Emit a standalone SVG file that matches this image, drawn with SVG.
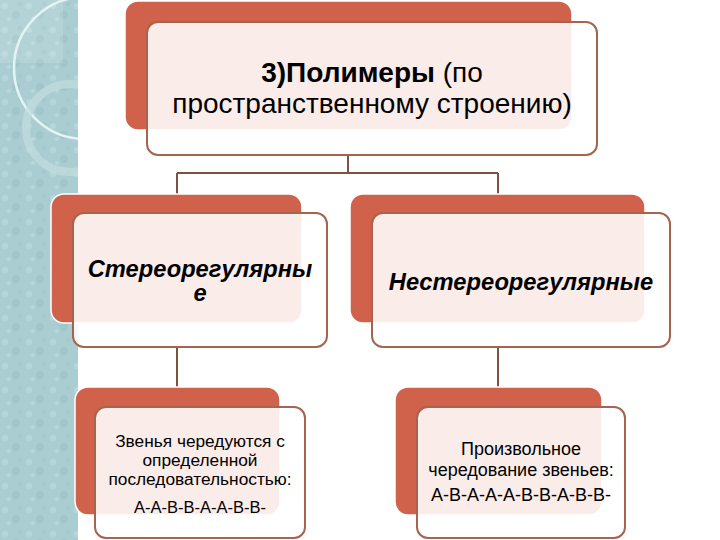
<svg xmlns="http://www.w3.org/2000/svg" width="720" height="540" viewBox="0 0 720 540">
<defs>
<style>
.back{fill:#d0614a;stroke:#ffffff;stroke-width:1.5}
.front{fill:#ffffff;fill-opacity:0.88;stroke:#a5644f;stroke-width:2}
.conn{fill:none;stroke:#7d5241;stroke-width:2}
.t{font-family:"Liberation Sans",Arial,sans-serif;fill:#000;text-anchor:middle}
.bi{font-weight:bold;font-style:italic;font-size:23.7px}
.sm{font-size:17.3px}
</style>
<clipPath id="strip"><rect x="0" y="0" width="78" height="540"/></clipPath>
<pattern id="tex" width="24" height="24" patternUnits="userSpaceOnUse">
<rect width="24" height="24" fill="#a9cdd1"/>
<circle cx="5" cy="6" r="3" fill="#bcdadd" opacity="0.7"/>
<circle cx="16" cy="15" r="4" fill="#97bfc3" opacity="0.5"/>
<circle cx="9" cy="19" r="2" fill="#c4e0e2" opacity="0.6"/>
<circle cx="20" cy="4" r="2" fill="#9cc3c7" opacity="0.6"/>
</pattern>
</defs>
<rect width="720" height="540" fill="#ffffff"/>
<g id="strip-bg" clip-path="url(#strip)">
<rect x="0" y="0" width="78" height="540" fill="url(#tex)"/>
<rect x="0" y="0" width="63" height="63" fill="#ffffff" opacity="0.12"/>
<circle cx="85" cy="68" r="71" fill="none" stroke="#e4f3f4" stroke-width="2.5"/>
<circle cx="70" cy="128" r="44" fill="none" stroke="#c3dde0" stroke-width="8" opacity="0.7"/>
</g>
<g id="connectors">
<path class="conn" d="M348 155 V173 M177 173 H498 M177 173 V213 M498 173 V213"/>
<path class="conn" d="M177 347 V407"/>
<path class="conn" d="M498 347 V407"/>
</g>
<g id="node-top">
<rect class="back" x="125" y="1" width="447" height="129" rx="13"/>
<rect class="front" x="147" y="22" width="450" height="133" rx="11"/>
<text class="t" x="372" y="82" font-size="28"><tspan font-weight="bold">3)Полимеры</tspan> (по</text>
<text class="t" x="372" y="113" font-size="28">пространственному строению)</text>
</g>
<g id="node-stereo">
<rect class="back" x="51" y="194" width="251" height="129" rx="13"/>
<rect class="front" x="73" y="213" width="254" height="134" rx="11"/>
<text class="t bi" x="200" y="277">Стереорегулярны</text>
<text class="t bi" x="200" y="301">е</text>
</g>
<g id="node-nonstereo">
<rect class="back" x="350" y="194" width="295" height="129" rx="13"/>
<rect class="front" x="372" y="213" width="298" height="134" rx="11"/>
<text class="t bi" x="521" y="290">Нестереорегулярные</text>
</g>
<g id="node-stereo-desc">
<rect class="back" x="75" y="387" width="205" height="128" rx="13"/>
<rect class="front" x="95" y="407" width="210" height="131" rx="11"/>
<text class="t sm" x="200" y="447">Звенья чередуются с</text>
<text class="t sm" x="200" y="466">определенной</text>
<text class="t sm" x="200" y="485">последовательностью:</text>
<text class="t" x="200" y="513" font-size="16.5">A-A-B-B-A-A-B-B-</text>
</g>
<g id="node-nonstereo-desc">
<rect class="back" x="395" y="387" width="207" height="128" rx="13"/>
<rect class="front" x="417" y="407" width="208" height="131" rx="11"/>
<text class="t" x="521" y="455" font-size="18">Произвольное</text>
<text class="t" x="521" y="476" font-size="18">чередование звеньев:</text>
<text class="t" x="521" y="501" font-size="18">A-B-A-A-A-B-B-A-B-B-</text>
</g>
</svg>
